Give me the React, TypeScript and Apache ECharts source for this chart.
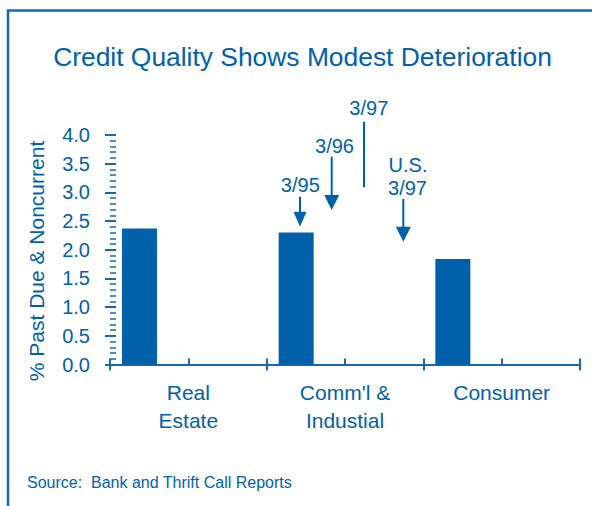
import React, { useEffect, useRef } from "react";
import * as echarts from "echarts";

const categories = ["Real\nEstate", "Comm'l &\nIndustial", "Consumer"];
const halfSlots = ["", "", "", "", "", ""];
const series395 = [2.37, 2.3, 1.84];
const series396: number[] = [];
const series397: number[] = [];
const seriesUS397: number[] = [];
const yMin = 0;
const yMax = 4;
const yInterval = 0.5;

const BLUE = "#0061AA";
const LINE = "#1767B2";
const FONT = "'Liberation Sans', Arial, Helvetica, sans-serif";

function arrow(x: number, y1: number, yBase: number, yTip: number, half: number) {
  return [
    { type: "line", shape: { x1: x, y1, x2: x, y2: yBase + 1 }, style: { stroke: BLUE, lineWidth: 2 } },
    {
      type: "polygon",
      shape: { points: [[x - half, yBase], [x + half, yBase], [x, yTip]] },
      style: { fill: BLUE },
    },
  ];
}

function txt(text: string, x: number, y: number, size: number, extra: any = {}) {
  return {
    type: "text",
    x,
    y,
    ...extra,
    style: {
      text,
      fill: BLUE,
      font: `${size}px ${FONT}`,
      textAlign: "center",
      textVerticalAlign: "middle",
      ...(extra.style || {}),
    },
  };
}

export default function App() {
  const ref = useRef<HTMLDivElement>(null);
  useEffect(() => {
    if (!ref.current) return;
    const chart = echarts.init(ref.current, undefined, { renderer: "svg" });
    const barCommon = {
      type: "bar",
      xAxisIndex: 0,
      yAxisIndex: 0,
      barWidth: 35,
      barGap: "-7%",
      itemStyle: { color: BLUE },
    };
    chart.setOption({
      animation: false,
      backgroundColor: "#ffffff",
      textStyle: { fontFamily: FONT },
      grid: { left: 110, right: 12, top: 135, bottom: 141.5, containLabel: false },
      xAxis: [
        {
          type: "category",
          data: categories,
          position: "bottom",
          boundaryGap: true,
          axisLine: { show: true, lineStyle: { color: LINE, width: 2 } },
          axisTick: { show: true, inside: false, length: 6, lineStyle: { color: LINE, width: 2 } },
          axisLabel: {
            show: true,
            color: BLUE,
            fontSize: 21,
            fontFamily: FONT,
            lineHeight: 28,
            margin: 14,
            interval: 0,
          },
          splitLine: { show: false },
        },
        {
          type: "category",
          data: halfSlots,
          position: "bottom",
          boundaryGap: true,
          axisLine: { show: false },
          axisTick: { show: true, inside: true, length: 6, interval: 0, lineStyle: { color: LINE, width: 2 } },
          axisLabel: { show: false },
          splitLine: { show: false },
        },
      ],
      yAxis: [
        {
          type: "value",
          min: yMin,
          max: yMax,
          interval: yInterval,
          position: "left",
          axisLine: { show: false },
          axisTick: { show: true, inside: true, length: 6, lineStyle: { color: LINE, width: 2 } },
          minorTick: { show: true, splitNumber: 5, length: 6, lineStyle: { color: LINE, width: 1.5 } },
          axisLabel: {
            color: BLUE,
            fontSize: 20,
            fontFamily: FONT,
            margin: 20,
            formatter: (v: number) => v.toFixed(1),
          },
          splitLine: { show: false },
          minorSplitLine: { show: false },
        },
        {
          type: "value",
          min: yMin,
          max: yMax,
          interval: yInterval,
          position: "left",
          axisLine: { show: false },
          axisTick: { show: true, inside: false, length: 5, lineStyle: { color: LINE, width: 2 } },
          axisLabel: { show: false },
          splitLine: { show: false },
        },
      ],
      series: [
        { ...barCommon, name: "3/95", data: series395 },
        { ...barCommon, name: "3/96", data: series396 },
        { ...barCommon, name: "3/97", data: series397 },
        { ...barCommon, name: "U.S. 3/97", data: seriesUS397 },
      ],
      graphic: [
        {
          type: "polyline",
          shape: { points: [[8, 520], [8, 10.5], [600, 10.5]] },
          style: { stroke: LINE, lineWidth: 2.5, fill: "none" },
        },
        txt("Credit Quality Shows Modest Deterioration", 302.5, 57, 26.4),
        txt("% Past Due & Noncurrent", 36, 261, 21, { rotation: Math.PI / 2 }),
        txt("3/97", 368.8, 108, 20),
        txt("3/96", 334.5, 145.5, 20),
        txt("3/95", 300.3, 184.7, 20),
        txt("U.S.", 408, 165, 20),
        txt("3/97", 407.5, 187.5, 20),
        { type: "line", shape: { x1: 364, y1: 121.7, x2: 364, y2: 187.3 }, style: { stroke: BLUE, lineWidth: 2 } },
        ...arrow(300, 196.7, 211.7, 226.7, 6.5),
        ...arrow(331.7, 156.7, 195, 210, 7.5),
        ...arrow(403.3, 199, 226.7, 241.7, 7.5),
        {
          type: "text",
          x: 27,
          y: 482.5,
          style: {
            text: "Source:  Bank and Thrift Call Reports",
            fill: BLUE,
            font: `16px ${FONT}`,
            textAlign: "left",
            textVerticalAlign: "middle",
          },
        },
      ],
    });
    return () => chart.dispose();
  }, []);
  return (
    <div
      ref={ref}
      style={{ position: "fixed", left: 0, top: 0, width: 592, height: 506, background: "#fff" }}
    />
  );
}
